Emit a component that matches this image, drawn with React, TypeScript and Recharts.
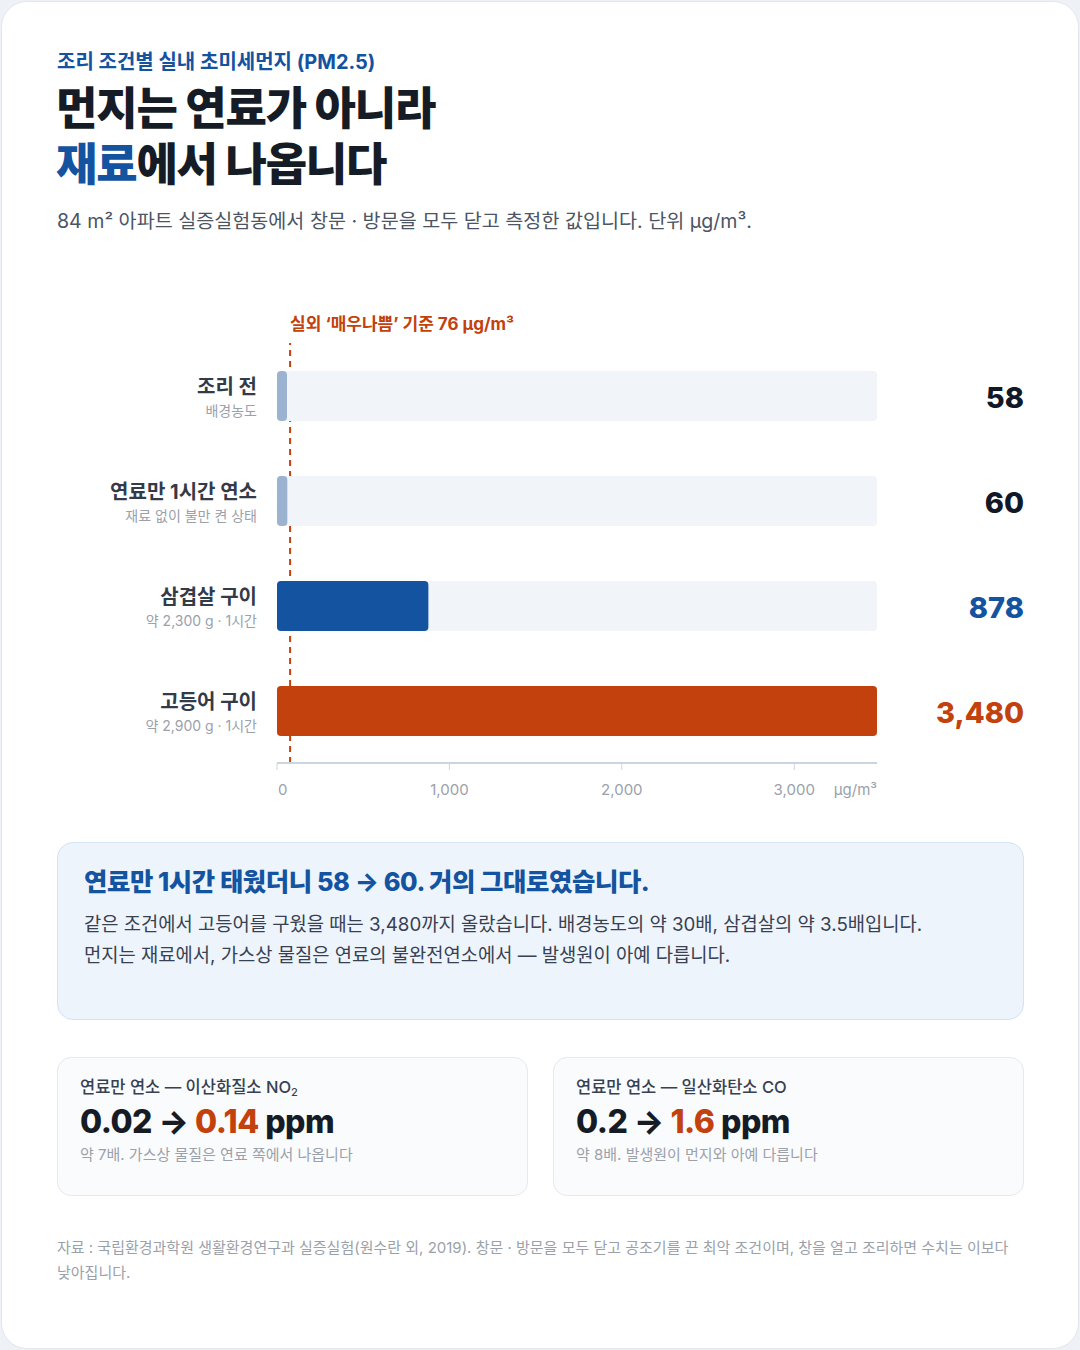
import React from 'react';
import { BarChart, Bar, XAxis, YAxis, Cell, LabelList, ReferenceLine } from 'recharts';

const categories = ['조리 전', '연료만 1시간 연소', '삼겹살 구이', '고등어 구이'];
const subLabels = ['배경농도', '재료 없이 불만 켠 상태', '약 2,300 g · 1시간', '약 2,900 g · 1시간'];
const pm25Values = [58, 60, 878, 3480];
const xTicks = [0, 1000, 2000, 3000];
const referenceValue = 76;

const barColors = ['#9bb3d1', '#9bb3d1', '#14539f', '#c2410c'];
const valueColors = ['#111827', '#111827', '#14539f', '#c2410c'];

const data = categories.map((name, i) => ({ name, sub: subLabels[i], value: pm25Values[i] }));

const SANS = "Inter, 'Noto Sans CJK KR', 'Noto Sans', sans-serif";
const CHART_W = 1080;
const CHART_H = 514;

const YTick = (props: any) => {
  const { y, payload, index } = props;
  const i = typeof index === 'number' ? index : categories.indexOf(payload.value);
  const right = 257;
  return (
    <g>
      <text x={right} y={y - 9} textAnchor="end" dominantBaseline="central" fontSize={20} fontWeight={700} fill="#333b48" fontFamily={SANS}>
        {payload.value}
      </text>
      <text x={right} y={y + 15} textAnchor="end" dominantBaseline="central" fontSize={14} fill="#9aa1ab" fontFamily={SANS}>
        {subLabels[i]}
      </text>
    </g>
  );
};

const XTick = (props: any) => {
  const { x, y, payload } = props;
  const isZero = payload.value === 0;
  return (
    <text x={isZero ? x + 1 : x} y={y + 17} textAnchor={isZero ? 'start' : 'middle'} dominantBaseline="central" fontSize={15} fill="#9aa1ab" fontFamily={SANS}>
      {payload.value.toLocaleString('en-US')}
    </text>
  );
};

const ValueLabel = (props: any) => {
  const { y, height, value, index } = props;
  return (
    <text x={CHART_W - 56} y={y + height / 2 + 1} textAnchor="end" dominantBaseline="central" fontSize={29} fontWeight={800} fill={valueColors[index]} fontFamily={SANS}>
      {Number(value).toLocaleString('en-US')}
    </text>
  );
};

const RefLabel = (props: any) => {
  const { viewBox } = props;
  return (
    <text x={viewBox.x} y={viewBox.y - 19} textAnchor="start" dominantBaseline="central" fontSize={17} fontWeight={700} fill="#c2410c" fontFamily={SANS}>
      실외 ‘매우나쁨’ 기준 76 μg/m³
    </text>
  );
};

const UnitLabel = (props: any) => {
  const { viewBox } = props;
  return (
    <text x={viewBox.x + viewBox.width} y={viewBox.y + 26} textAnchor="end" dominantBaseline="central" fontSize={15} fill="#9aa1ab" fontFamily={SANS}>
      μg/m³
    </text>
  );
};

export default function App() {
  return (
    <div style={{ position: 'absolute', left: 0, top: 0, width: 1080, height: 1350, background: '#eef1f5', fontFamily: SANS }}>
      <div style={{ position: 'absolute', left: 1, top: 1, width: 1076, height: 1346, background: '#ffffff', border: '1px solid #e3e7ed', borderRadius: 26 }} />

      <div style={{ position: 'absolute', left: 57, top: 48, fontSize: 20, fontWeight: 700, color: '#14539f', lineHeight: '28px' }}>
        조리 조건별 실내 초미세먼지 (PM2.5)
      </div>
      <div style={{ position: 'absolute', left: 56, top: 81, fontSize: 45, fontWeight: 800, color: '#161c26', lineHeight: '56px', letterSpacing: -1.2 }}>
        먼지는 연료가 아니라<br />
        <span style={{ color: '#14539f' }}>재료</span>에서 나옵니다
      </div>
      <div style={{ position: 'absolute', left: 57, top: 207, fontSize: 19.6, color: '#4b5563', lineHeight: '28px' }}>
        84 m² 아파트 실증실험동에서 창문 · 방문을 모두 닫고 측정한 값입니다. 단위 μg/m³.
      </div>

      <div style={{ position: 'absolute', left: 0, top: 289 }}>
        <BarChart width={CHART_W} height={CHART_H} data={data} layout="vertical" margin={{ top: 54, right: 203, bottom: 0, left: 0 }} barSize={50}>
          <ReferenceLine x={referenceValue} stroke="#c2410c" strokeWidth={2} strokeDasharray="6 5" label={<RefLabel />} zIndex={-80} />
          <XAxis type="number" domain={[0, 3480]} ticks={xTicks} height={40} axisLine={{ stroke: '#cbd5e1', strokeWidth: 2 }} tickLine={{ stroke: '#cbd5e1', strokeWidth: 1 }} tickSize={7} tick={<XTick />} label={<UnitLabel />} allowDataOverflow />
          <YAxis type="category" dataKey="name" width={277} axisLine={false} tickLine={false} tick={<YTick />} />
          <Bar dataKey="value" isAnimationActive={false} radius={4} background={{ fill: '#f1f4f9', radius: 4 }}>
            {data.map((d, i) => (
              <Cell key={d.name} fill={barColors[i]} />
            ))}
            <LabelList dataKey="value" content={<ValueLabel />} />
          </Bar>
        </BarChart>
      </div>

      <div style={{ position: 'absolute', left: 57, top: 842, width: 965, height: 176, background: '#eef4fc', border: '1px solid #d3e2f5', borderRadius: 16 }}>
        <div style={{ position: 'absolute', left: 26, top: 22, fontSize: 25.4, fontWeight: 800, color: '#14539f', lineHeight: '34px', letterSpacing: -0.4 }}>
          연료만 1시간 태웠더니 58 → 60. 거의 그대로였습니다.
        </div>
        <div style={{ position: 'absolute', left: 26, top: 66, fontSize: 18.75, color: '#374151', lineHeight: '31px' }}>
          같은 조건에서 고등어를 구웠을 때는 3,480까지 올랐습니다. 배경농도의 약 30배, 삼겹살의 약 3.5배입니다.<br />
          먼지는 재료에서, 가스상 물질은 연료의 불완전연소에서 — 발생원이 아예 다릅니다.
        </div>
      </div>

      {[
        { left: 57, label: <>연료만 연소 — 이산화질소 NO<sub style={{ fontSize: 11, verticalAlign: 'baseline', position: 'relative', top: 3 }}>2</sub></>, from: '0.02', to: '0.14', note: '약 7배. 가스상 물질은 연료 쪽에서 나옵니다' },
        { left: 553, label: <>연료만 연소 — 일산화탄소 CO</>, from: '0.2', to: '1.6', note: '약 8배. 발생원이 먼지와 아예 다릅니다' },
      ].map((c, i) => (
        <div key={i} style={{ position: 'absolute', left: c.left, top: 1057, width: 469, height: 137, background: '#fafbfc', border: '1px solid #e6e9ee', borderRadius: 14 }}>
          <div style={{ position: 'absolute', left: 22, top: 17, fontSize: 16.5, fontWeight: 500, color: '#374151', lineHeight: '24px' }}>{c.label}</div>
          <div style={{ position: 'absolute', left: 22, top: 44, fontSize: 32, fontWeight: 800, color: '#161c26', lineHeight: '40px', letterSpacing: -0.5 }}>
            {c.from} → <span style={{ color: '#c2410c' }}>{c.to}</span> ppm
          </div>
          <div style={{ position: 'absolute', left: 22, top: 86, fontSize: 15, color: '#9aa1ab', lineHeight: '22px' }}>{c.note}</div>
        </div>
      ))}

      <div style={{ position: 'absolute', left: 57, top: 1235, width: 960, fontSize: 15, color: '#9aa1ab', lineHeight: '25px' }}>
        자료 : 국립환경과학원 생활환경연구과 실증실험(원수란 외, 2019). 창문 · 방문을 모두 닫고 공조기를 끈 최악 조건이며, 창을 열고 조리하면 수치는 이보다 낮아집니다.
      </div>
    </div>
  );
}
